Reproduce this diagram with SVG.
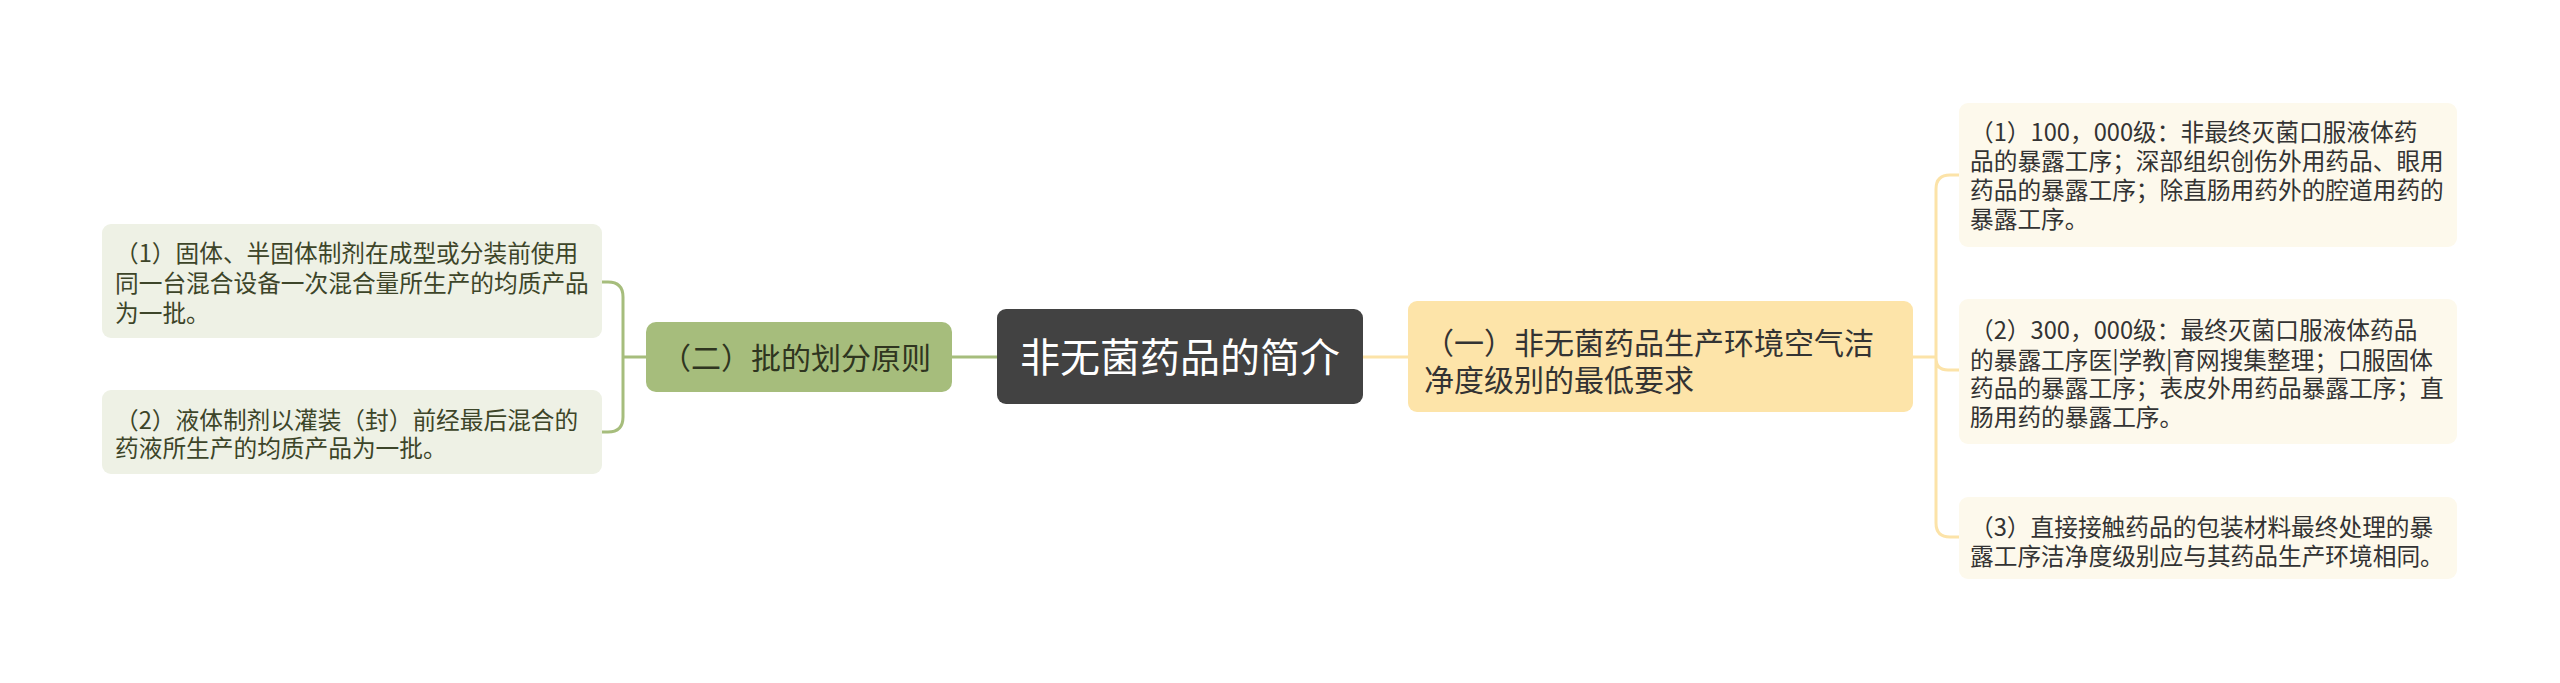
<svg xmlns="http://www.w3.org/2000/svg" width="2560" height="683" viewBox="0 0 2560 683">
<style>
text{font-family:"Noto Sans CJK SC","Noto Sans",sans-serif;}
.leafL{fill:#eef1e5;}
.leafR{fill:#fdf9ec;}
.tL{font-size:23.7px;fill:#3d4529;}
.tR{font-size:23.7px;fill:#333333;}
.cg{fill:none;stroke:#a6bd7c;stroke-width:3;}
.co{fill:none;stroke:#fce3a8;stroke-width:3;}
</style>
<rect width="2560" height="683" fill="#ffffff"/>
<g id="connectors">
<path class="cg" d="M647,357 H623 M623,357 V297 Q623,282 608,282 H601 M623,357 V417 Q623,432 608,432 H601"/>
<path class="cg" d="M952,357 H997"/>
<path class="co" d="M1363,357 H1408"/>
<path class="co" d="M1913,357 H1936 M1936,357 V189 Q1936,175 1950,175 H1959 M1936,357 V358 Q1936,370 1948,370 H1959 M1936,357 V523 Q1936,537 1950,537 H1959"/>
</g>
<g id="root">
<rect x="997" y="309" width="366" height="95" rx="9" fill="#424242"/>
<text x="1180" y="372" text-anchor="middle" style="font-size:40px;fill:#ffffff">非无菌药品的简介</text>
</g>
<g id="branch-left">
<rect x="646" y="322" width="306" height="70" rx="10" fill="#a6bd7c"/>
<text x="661" y="369" style="font-size:30px;fill:#2f3520">（二）批的划分原则</text>
</g>
<g id="leaf-left-1">
<rect class="leafL" x="102" y="224" width="500" height="114" rx="9"/>
<text class="tL" x="115" y="262">（1）固体、半固体制剂在成型或分装前使用</text>
<text class="tL" x="115" y="292">同一台混合设备一次混合量所生产的均质产品</text>
<text class="tL" x="115" y="322">为一批。</text>
</g>
<g id="leaf-left-2">
<rect class="leafL" x="102" y="390" width="500" height="84" rx="9"/>
<text class="tL" x="115" y="429">（2）液体制剂以灌装（封）前经最后混合的</text>
<text class="tL" x="115" y="457">药液所生产的均质产品为一批。</text>
</g>
<g id="branch-right">
<rect x="1408" y="301" width="505" height="111" rx="9" fill="#fde4a9"/>
<text x="1424" y="354" style="font-size:30px;fill:#333333">（一）非无菌药品生产环境空气洁</text>
<text x="1424" y="391" style="font-size:30px;fill:#333333">净度级别的最低要求</text>
</g>
<g id="leaf-right-1">
<rect class="leafR" x="1959" y="103" width="498" height="144" rx="9"/>
<text class="tR" x="1970" y="141">（1）100，000级：非最终灭菌口服液体药</text>
<text class="tR" x="1970" y="170">品的暴露工序；深部组织创伤外用药品、眼用</text>
<text class="tR" x="1970" y="199">药品的暴露工序；除直肠用药外的腔道用药的</text>
<text class="tR" x="1970" y="228">暴露工序。</text>
</g>
<g id="leaf-right-2">
<rect class="leafR" x="1959" y="299" width="498" height="145" rx="9"/>
<text class="tR" x="1970" y="339">（2）300，000级：最终灭菌口服液体药品</text>
<text class="tR" x="1970" y="369">的暴露工序医|学教|育网搜集整理；口服固体</text>
<text class="tR" x="1970" y="397">药品的暴露工序；表皮外用药品暴露工序；直</text>
<text class="tR" x="1970" y="426">肠用药的暴露工序。</text>
</g>
<g id="leaf-right-3">
<rect class="leafR" x="1959" y="497" width="498" height="82" rx="9"/>
<text class="tR" x="1970" y="536">（3）直接接触药品的包装材料最终处理的暴</text>
<text class="tR" x="1970" y="565">露工序洁净度级别应与其药品生产环境相同。</text>
</g>
</svg>
